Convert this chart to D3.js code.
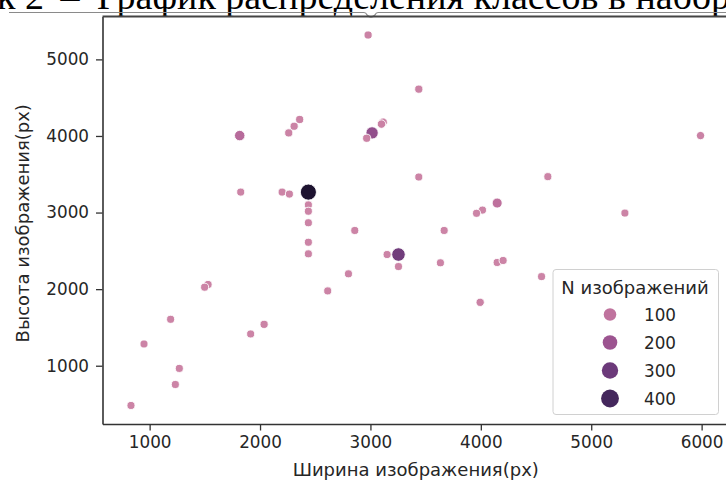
<!DOCTYPE html>
<html>
<head>
<meta charset="utf-8">
<script src="https://cdn.jsdelivr.net/npm/d3@7"></script>
<style>
  html, body { margin: 0; padding: 0; background: #fff; overflow: hidden; }
  svg { display: block; }
</style>
</head>
<body>
<svg width="726" height="481"></svg>
<script>
// image width / height (px) for each class, and number of images in it
var widths  = [2979, 3438, 2359, 2309, 2260, 1816, 3115, 3100, 3015, 2966,
               3438, 1825, 2200, 2266, 2438, 2438, 2438, 2438, 2858, 2438,
               2438, 3151, 3254, 3254, 2801, 2613, 1529, 1498, 1190, 949,
               2037, 1915, 1269, 1233, 831, 5990, 4607, 4148, 4015, 3961,
               5305, 3668, 3634, 4148, 4202, 4550, 3994];
var heights = [5318, 4611, 4215, 4127, 4040, 4005, 4180, 4155, 4040, 3970,
               3464, 3267, 3267, 3241, 3267, 3100, 3017, 2867, 2766, 2612,
               2461, 2452, 2452, 2295, 2200, 1977, 2060, 2025, 1606, 1284,
               1540, 1415, 965, 755, 481, 4005, 3469, 3124, 3032, 2990,
               2993, 2766, 2344, 2348, 2374, 2164, 1828];
var counts  = [30, 30, 30, 30, 30, 125, 40, 40, 220, 30,
               25, 25, 25, 25, 460, 25, 25, 25, 25, 25,
               25, 25, 290, 25, 25, 25, 30, 25, 25, 25,
               30, 25, 25, 25, 25, 35, 25, 105, 25, 25,
               25, 25, 25, 25, 25, 25, 35];

var legendValues = [100, 200, 300, 400];
var xTicks = [1000, 2000, 3000, 4000, 5000, 6000];
var yTicks = [1000, 2000, 3000, 4000, 5000];

var data = widths.map(function(w, i) {
  return {w: w, h: heights[i], n: counts[i]};
});

var svg = d3.select("svg"),
    margin = {top: 16.5, left: 102.5},
    width = 626.5,
    height = 407.5;

// document caption above the picture (cut off by the crop)
var serif = "'Liberation Serif', 'Times New Roman', serif";
svg.append("text")
    .attr("x", 44).attr("y", 9)
    .attr("text-anchor", "end")
    .style("font-family", serif)
    .style("font-size", "38px")
    .text("Рисунок 2");
svg.append("text")
    .attr("x", 70).attr("y", 9)
    .attr("text-anchor", "middle")
    .style("font-family", serif)
    .style("font-size", "38px")
    .text("–");
svg.append("text")
    .attr("x", 97).attr("y", 9)
    .style("font-family", serif)
    .style("font-size", "38px")
    .text("График распределения классов в наборе данных");

// frame line of the inserted picture, with the little handle
svg.append("path")
    .attr("d", "M9,12.5 H364 Q366,12.5 367,15 Q371,19 375,15 Q376,12.5 378,12.5 H726")
    .attr("fill", "none")
    .attr("stroke", "#8a8a8a")
    .attr("stroke-width", 1.2);

// axis limits padded like matplotlib (5%)
var xe = d3.extent(widths), ye = d3.extent(heights);
var xp = (xe[1] - xe[0]) * 0.05, yp = (ye[1] - ye[0]) * 0.05;

var x = d3.scaleLinear().domain([xe[0] - xp, xe[1] + xp]).range([0, width]),
    y = d3.scaleLinear().domain([ye[0] - yp, ye[1] + yp]).range([height, 0]);

var nExt = d3.extent(counts);
// seaborn maps size linearly to marker area
var area = d3.scaleLinear().domain(nExt).range([18, 72]);
function radius(n) { return Math.sqrt(area(n)) * 0.95; }

var colour = d3.scaleLinear()
    .domain([25, 100, 200, 300, 400, 460])
    .range(["#cc84a6", "#c0739e", "#9c5490", "#6c3a7a", "#44275c", "#1d1330"])
    .interpolate(d3.interpolateLab)
    .clamp(true);

var g = svg.append("g")
    .attr("transform", "translate(" + margin.left + "," + margin.top + ")");

// points
g.selectAll(".dot")
  .data(data)
  .enter().append("circle")
    .attr("class", "dot")
    .attr("cx", function(d) { return x(d.w); })
    .attr("cy", function(d) { return y(d.h); })
    .attr("r", function(d) { return radius(d.n); })
    .attr("fill", function(d) { return colour(d.n); })
    .attr("stroke", "#fff")
    .attr("stroke-width", 0.9);

// axes
var tickFont = "'DejaVu Sans', sans-serif";

var xAxis = g.append("g")
    .attr("transform", "translate(0," + height + ")")
    .call(d3.axisBottom(x).tickValues(xTicks).tickFormat(d3.format("d"))
      .tickSize(6.5).tickPadding(6).tickSizeOuter(0));
var yAxis = g.append("g")
    .call(d3.axisLeft(y).tickValues(yTicks).tickFormat(d3.format("d"))
      .tickSize(6.5).tickPadding(7).tickSizeOuter(0));

[xAxis, yAxis].forEach(function(a) {
  a.selectAll("text").style("font-family", tickFont).style("font-size", "16.8px").attr("fill", "#262626");
  a.selectAll("line").attr("stroke", "#333").attr("stroke-width", 1.3);
  a.select(".domain").attr("stroke", "#333").attr("stroke-width", 1.6);
});

// top spine
g.append("line")
    .attr("x1", 0).attr("x2", width)
    .attr("y1", 0).attr("y2", 0)
    .attr("stroke", "#444").attr("stroke-width", 2);

// axis labels
g.append("text")
    .attr("x", width / 2)
    .attr("y", height + 52)
    .attr("text-anchor", "middle")
    .style("font-family", tickFont)
    .style("font-size", "18px")
    .attr("fill", "#262626")
    .text("Ширина изображения(px)");

g.append("text")
    .attr("transform", "rotate(-90)")
    .attr("x", -height / 2 - 3)
    .attr("y", -74)
    .attr("text-anchor", "middle")
    .style("font-family", tickFont)
    .style("font-size", "18px")
    .attr("fill", "#262626")
    .text("Высота изображения(px)");

// legend
var legend = svg.append("g").attr("transform", "translate(553,269.5)");
legend.append("rect")
    .attr("width", 165.5).attr("height", 145)
    .attr("rx", 3)
    .attr("fill", "#fff").attr("fill-opacity", 0.8)
    .attr("stroke", "#d0d0d0").attr("stroke-width", 1);
legend.append("text")
    .attr("x", 82).attr("y", 24)
    .attr("text-anchor", "middle")
    .style("font-family", tickFont)
    .style("font-size", "18px")
    .attr("fill", "#262626")
    .text("N изображений");

var item = legend.selectAll(".item")
  .data(legendValues)
  .enter().append("g")
    .attr("transform", function(d, i) { return "translate(0," + (45 + i * 28) + ")"; });
item.append("circle")
    .attr("cx", 57)
    .attr("r", function(d) { return radius(d) + 1.3; })
    .attr("fill", function(d) { return colour(d); });
item.append("text")
    .attr("x", 91)
    .attr("dy", "0.36em")
    .style("font-family", tickFont)
    .style("font-size", "16.8px")
    .attr("fill", "#262626")
    .text(function(d) { return d; });
</script>
</body>
</html>
